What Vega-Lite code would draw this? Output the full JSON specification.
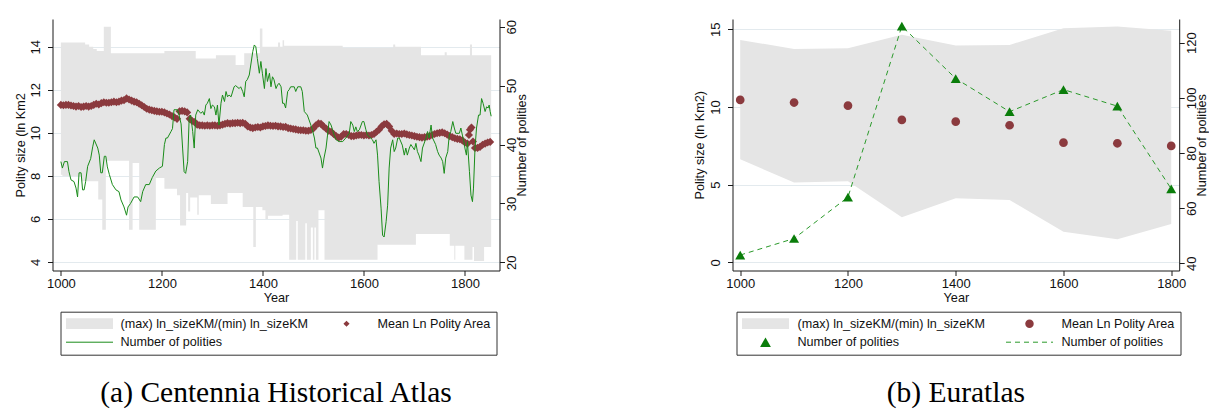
{
  "$schema": "https://vega.github.io/schema/vega-lite/v6.json",
  "background": "white",
  "padding": {"left": 14.5, "top": 19, "right": 0, "bottom": 0},
  "spacing": 233,
  "bounds": "flush",
  "resolve": {
    "scale": {"fill": "independent", "stroke": "independent", "shape": "independent", "strokeDash": "independent"},
    "legend": {"fill": "independent", "stroke": "independent", "shape": "independent", "strokeDash": "independent"}
  },
  "config": {
    "view": {"stroke": null},
    "font": "Liberation Sans",
    "axis": {
      "domainColor": "#1a1a1a", "tickColor": "#1a1a1a", "tickSize": 5,
      "labelColor": "#111", "titleColor": "#111",
      "labelFont": "Liberation Sans", "titleFont": "Liberation Sans",
      "labelFontSize": 13, "titleFontSize": 12.7, "titleFontWeight": "normal",
      "gridColor": "#e3eaee", "grid": false
    },
    "legend": {"labelFont": "Liberation Sans", "labelFontSize": 12.6, "labelColor": "#111", "labelLimit": 400}
  },
  "datasets": {
    "centRange": [
      {"year": 1000, "hi": 14.2, "lo": 8.05}, {"year": 1003, "hi": 14.2, "lo": 8.0},
      {"year": 1040, "hi": 14.2, "lo": 7.75}, {"year": 1048, "hi": 14.1, "lo": 7.75},
      {"year": 1056, "hi": 14.0, "lo": 7.75}, {"year": 1064, "hi": 13.9, "lo": 7.75},
      {"year": 1071, "hi": 13.8, "lo": 7.75}, {"year": 1074, "hi": 13.8, "lo": 6.9},
      {"year": 1082, "hi": 13.8, "lo": 5.5}, {"year": 1085, "hi": 14.93, "lo": 5.5},
      {"year": 1089, "hi": 14.93, "lo": 8.7}, {"year": 1099, "hi": 13.7, "lo": 8.7},
      {"year": 1135, "hi": 13.7, "lo": 5.5}, {"year": 1142, "hi": 13.7, "lo": 8.6},
      {"year": 1155, "hi": 13.7, "lo": 5.5}, {"year": 1188, "hi": 13.7, "lo": 7.9},
      {"year": 1205, "hi": 13.8, "lo": 7.4}, {"year": 1230, "hi": 13.8, "lo": 7.1},
      {"year": 1236, "hi": 13.8, "lo": 5.7}, {"year": 1248, "hi": 13.8, "lo": 7.2},
      {"year": 1252, "hi": 13.8, "lo": 6.35}, {"year": 1256, "hi": 13.8, "lo": 7.0},
      {"year": 1267, "hi": 13.46, "lo": 7.0}, {"year": 1270, "hi": 13.46, "lo": 6.2},
      {"year": 1273, "hi": 13.46, "lo": 7.1}, {"year": 1297, "hi": 13.46, "lo": 6.7},
      {"year": 1307, "hi": 13.6, "lo": 6.7}, {"year": 1330, "hi": 13.6, "lo": 7.2},
      {"year": 1346, "hi": 13.15, "lo": 7.2}, {"year": 1360, "hi": 13.15, "lo": 6.55},
      {"year": 1363, "hi": 13.7, "lo": 6.55}, {"year": 1381, "hi": 13.7, "lo": 4.7},
      {"year": 1386, "hi": 13.7, "lo": 6.55}, {"year": 1394, "hi": 14.85, "lo": 6.55},
      {"year": 1399, "hi": 14.0, "lo": 6.4}, {"year": 1405, "hi": 14.0, "lo": 6.0},
      {"year": 1410, "hi": 14.0, "lo": 6.15}, {"year": 1430, "hi": 14.2, "lo": 6.15},
      {"year": 1434, "hi": 14.0, "lo": 6.15}, {"year": 1439, "hi": 14.3, "lo": 6.2},
      {"year": 1442, "hi": 14.05, "lo": 6.2}, {"year": 1452, "hi": 14.05, "lo": 4.1},
      {"year": 1466, "hi": 14.05, "lo": 5.9}, {"year": 1469, "hi": 14.05, "lo": 4.1},
      {"year": 1484, "hi": 14.05, "lo": 5.8}, {"year": 1487, "hi": 14.05, "lo": 4.1},
      {"year": 1495, "hi": 14.05, "lo": 5.6}, {"year": 1499, "hi": 14.05, "lo": 4.1},
      {"year": 1502, "hi": 14.05, "lo": 5.6}, {"year": 1505, "hi": 14.05, "lo": 4.1},
      {"year": 1510, "hi": 14.05, "lo": 6.4}, {"year": 1522, "hi": 14.05, "lo": 4.1},
      {"year": 1558, "hi": 13.95, "lo": 4.1}, {"year": 1627, "hi": 13.95, "lo": 4.8},
      {"year": 1658, "hi": 14.1, "lo": 4.8}, {"year": 1662, "hi": 14.0, "lo": 4.8},
      {"year": 1703, "hi": 14.0, "lo": 5.3}, {"year": 1713, "hi": 13.6, "lo": 5.3},
      {"year": 1760, "hi": 13.75, "lo": 5.3}, {"year": 1764, "hi": 13.6, "lo": 5.3},
      {"year": 1770, "hi": 13.6, "lo": 4.75}, {"year": 1779, "hi": 13.6, "lo": 4.1},
      {"year": 1781, "hi": 13.6, "lo": 4.75}, {"year": 1799, "hi": 13.6, "lo": 4.1},
      {"year": 1810, "hi": 14.1, "lo": 4.1}, {"year": 1814, "hi": 13.6, "lo": 4.1},
      {"year": 1815, "hi": 13.6, "lo": 4.7}, {"year": 1818, "hi": 13.6, "lo": 4.05},
      {"year": 1838, "hi": 13.6, "lo": 4.7}, {"year": 1852, "hi": 13.6, "lo": 4.7}
    ],
    "centMean": [
      {"year": 1000, "m": 11.3}, {"year": 1005, "m": 11.28}, {"year": 1010, "m": 11.3}, {"year": 1015, "m": 11.3},
      {"year": 1020, "m": 11.27}, {"year": 1025, "m": 11.25}, {"year": 1030, "m": 11.22}, {"year": 1035, "m": 11.25},
      {"year": 1040, "m": 11.2}, {"year": 1045, "m": 11.22}, {"year": 1050, "m": 11.25}, {"year": 1055, "m": 11.22},
      {"year": 1060, "m": 11.25}, {"year": 1065, "m": 11.3}, {"year": 1070, "m": 11.35}, {"year": 1075, "m": 11.32},
      {"year": 1080, "m": 11.38}, {"year": 1085, "m": 11.42}, {"year": 1090, "m": 11.4}, {"year": 1095, "m": 11.4},
      {"year": 1100, "m": 11.42}, {"year": 1105, "m": 11.45}, {"year": 1110, "m": 11.42}, {"year": 1115, "m": 11.45},
      {"year": 1120, "m": 11.5}, {"year": 1125, "m": 11.52}, {"year": 1130, "m": 11.6}, {"year": 1135, "m": 11.55},
      {"year": 1140, "m": 11.5}, {"year": 1145, "m": 11.45}, {"year": 1150, "m": 11.42}, {"year": 1155, "m": 11.35},
      {"year": 1160, "m": 11.28}, {"year": 1165, "m": 11.2}, {"year": 1170, "m": 11.12}, {"year": 1175, "m": 11.08},
      {"year": 1180, "m": 11.05}, {"year": 1185, "m": 11.02}, {"year": 1190, "m": 11.0}, {"year": 1195, "m": 10.98},
      {"year": 1200, "m": 10.98}, {"year": 1205, "m": 10.95}, {"year": 1210, "m": 10.9}, {"year": 1215, "m": 10.85},
      {"year": 1220, "m": 10.78}, {"year": 1225, "m": 10.72}, {"year": 1230, "m": 10.65}, {"year": 1235, "m": 11.0},
      {"year": 1240, "m": 11.02}, {"year": 1245, "m": 11.0}, {"year": 1250, "m": 10.95}, {"year": 1255, "m": 10.65},
      {"year": 1260, "m": 10.55}, {"year": 1265, "m": 10.5}, {"year": 1270, "m": 10.38}, {"year": 1275, "m": 10.35},
      {"year": 1280, "m": 10.35}, {"year": 1285, "m": 10.33}, {"year": 1290, "m": 10.35}, {"year": 1295, "m": 10.33},
      {"year": 1300, "m": 10.35}, {"year": 1305, "m": 10.35}, {"year": 1310, "m": 10.33}, {"year": 1315, "m": 10.35},
      {"year": 1320, "m": 10.38}, {"year": 1325, "m": 10.42}, {"year": 1330, "m": 10.45}, {"year": 1335, "m": 10.43},
      {"year": 1340, "m": 10.45}, {"year": 1345, "m": 10.45}, {"year": 1350, "m": 10.47}, {"year": 1355, "m": 10.45},
      {"year": 1360, "m": 10.47}, {"year": 1365, "m": 10.42}, {"year": 1370, "m": 10.3}, {"year": 1375, "m": 10.25},
      {"year": 1380, "m": 10.22}, {"year": 1385, "m": 10.25}, {"year": 1390, "m": 10.27}, {"year": 1395, "m": 10.25},
      {"year": 1400, "m": 10.3}, {"year": 1405, "m": 10.32}, {"year": 1410, "m": 10.35}, {"year": 1415, "m": 10.33},
      {"year": 1420, "m": 10.32}, {"year": 1425, "m": 10.33}, {"year": 1430, "m": 10.3}, {"year": 1435, "m": 10.3},
      {"year": 1440, "m": 10.27}, {"year": 1445, "m": 10.28}, {"year": 1450, "m": 10.22}, {"year": 1455, "m": 10.2},
      {"year": 1460, "m": 10.18}, {"year": 1465, "m": 10.16}, {"year": 1470, "m": 10.13}, {"year": 1475, "m": 10.12},
      {"year": 1480, "m": 10.12}, {"year": 1485, "m": 10.1}, {"year": 1490, "m": 10.1}, {"year": 1495, "m": 10.13},
      {"year": 1500, "m": 10.2}, {"year": 1505, "m": 10.35}, {"year": 1510, "m": 10.44}, {"year": 1515, "m": 10.42},
      {"year": 1520, "m": 10.3}, {"year": 1525, "m": 10.2}, {"year": 1530, "m": 10.1}, {"year": 1535, "m": 10.05},
      {"year": 1540, "m": 9.95}, {"year": 1545, "m": 9.85}, {"year": 1550, "m": 9.78}, {"year": 1555, "m": 9.82},
      {"year": 1560, "m": 9.95}, {"year": 1565, "m": 9.95}, {"year": 1570, "m": 9.9}, {"year": 1575, "m": 9.85},
      {"year": 1580, "m": 9.85}, {"year": 1585, "m": 9.88}, {"year": 1590, "m": 9.9}, {"year": 1595, "m": 9.9},
      {"year": 1600, "m": 9.88}, {"year": 1605, "m": 9.9}, {"year": 1610, "m": 9.88}, {"year": 1615, "m": 9.9},
      {"year": 1620, "m": 9.95}, {"year": 1625, "m": 10.05}, {"year": 1630, "m": 10.15}, {"year": 1635, "m": 10.3},
      {"year": 1640, "m": 10.4}, {"year": 1645, "m": 10.42}, {"year": 1650, "m": 10.3}, {"year": 1655, "m": 10.1},
      {"year": 1660, "m": 9.95}, {"year": 1665, "m": 9.97}, {"year": 1670, "m": 9.95}, {"year": 1675, "m": 9.95},
      {"year": 1680, "m": 9.97}, {"year": 1685, "m": 9.93}, {"year": 1690, "m": 9.9}, {"year": 1695, "m": 9.88},
      {"year": 1700, "m": 9.85}, {"year": 1705, "m": 9.82}, {"year": 1710, "m": 9.8}, {"year": 1715, "m": 9.78},
      {"year": 1720, "m": 9.8}, {"year": 1725, "m": 9.82}, {"year": 1730, "m": 9.85}, {"year": 1735, "m": 9.9},
      {"year": 1740, "m": 9.95}, {"year": 1745, "m": 9.98}, {"year": 1750, "m": 10.0}, {"year": 1755, "m": 10.02},
      {"year": 1760, "m": 9.98}, {"year": 1765, "m": 9.92}, {"year": 1770, "m": 9.85}, {"year": 1775, "m": 9.8},
      {"year": 1780, "m": 9.75}, {"year": 1785, "m": 9.72}, {"year": 1790, "m": 9.7}, {"year": 1795, "m": 9.65},
      {"year": 1800, "m": 9.55}, {"year": 1805, "m": 9.5}, {"year": 1808, "m": 9.9}, {"year": 1810, "m": 10.15},
      {"year": 1813, "m": 10.25}, {"year": 1816, "m": 9.6}, {"year": 1820, "m": 9.3}, {"year": 1825, "m": 9.3},
      {"year": 1830, "m": 9.35}, {"year": 1835, "m": 9.45}, {"year": 1840, "m": 9.5}, {"year": 1845, "m": 9.55},
      {"year": 1850, "m": 9.58}
    ],
    "centCount": [
      {"year": 1000, "n": 37.1}, {"year": 1003, "n": 36.0}, {"year": 1007, "n": 37.1}, {"year": 1013, "n": 37.1},
      {"year": 1016, "n": 35.4}, {"year": 1020, "n": 34.0}, {"year": 1026, "n": 33.7}, {"year": 1030, "n": 32.6},
      {"year": 1033, "n": 31.1}, {"year": 1036, "n": 35.2}, {"year": 1040, "n": 35.2}, {"year": 1043, "n": 32.3},
      {"year": 1046, "n": 32.3}, {"year": 1049, "n": 33.7}, {"year": 1053, "n": 36.3}, {"year": 1059, "n": 37.6},
      {"year": 1063, "n": 39.6}, {"year": 1066, "n": 40.8}, {"year": 1073, "n": 39.4}, {"year": 1076, "n": 38.2},
      {"year": 1079, "n": 35.2}, {"year": 1082, "n": 35.2}, {"year": 1086, "n": 38.0}, {"year": 1089, "n": 38.0},
      {"year": 1092, "n": 36.2}, {"year": 1096, "n": 34.9}, {"year": 1102, "n": 33.2}, {"year": 1109, "n": 32.3},
      {"year": 1115, "n": 32.0}, {"year": 1119, "n": 30.6}, {"year": 1125, "n": 29.4}, {"year": 1130, "n": 28.0},
      {"year": 1133, "n": 29.4}, {"year": 1138, "n": 30.0}, {"year": 1145, "n": 31.1}, {"year": 1152, "n": 31.1},
      {"year": 1158, "n": 30.3}, {"year": 1162, "n": 32.0}, {"year": 1168, "n": 33.2}, {"year": 1175, "n": 33.2},
      {"year": 1181, "n": 34.4}, {"year": 1188, "n": 35.5}, {"year": 1195, "n": 36.0}, {"year": 1201, "n": 36.3},
      {"year": 1205, "n": 40.0}, {"year": 1208, "n": 41.1}, {"year": 1211, "n": 41.1}, {"year": 1218, "n": 42.2},
      {"year": 1221, "n": 42.7}, {"year": 1224, "n": 45.9}, {"year": 1231, "n": 45.9}, {"year": 1234, "n": 45.0},
      {"year": 1238, "n": 43.5}, {"year": 1241, "n": 39.4}, {"year": 1244, "n": 35.4}, {"year": 1247, "n": 35.1},
      {"year": 1251, "n": 37.1}, {"year": 1254, "n": 44.4}, {"year": 1257, "n": 45.0}, {"year": 1261, "n": 42.2},
      {"year": 1264, "n": 39.4}, {"year": 1267, "n": 45.0}, {"year": 1271, "n": 45.9}, {"year": 1277, "n": 45.3},
      {"year": 1281, "n": 45.6}, {"year": 1284, "n": 45.0}, {"year": 1287, "n": 46.7}, {"year": 1290, "n": 47.0},
      {"year": 1294, "n": 47.8}, {"year": 1297, "n": 46.1}, {"year": 1300, "n": 46.7}, {"year": 1304, "n": 46.4},
      {"year": 1307, "n": 45.0}, {"year": 1310, "n": 46.7}, {"year": 1313, "n": 43.3}, {"year": 1317, "n": 47.0},
      {"year": 1320, "n": 48.4}, {"year": 1324, "n": 47.3}, {"year": 1327, "n": 49.0}, {"year": 1330, "n": 48.1},
      {"year": 1333, "n": 48.4}, {"year": 1337, "n": 48.1}, {"year": 1343, "n": 49.8}, {"year": 1346, "n": 50.0},
      {"year": 1353, "n": 49.5}, {"year": 1356, "n": 49.8}, {"year": 1360, "n": 49.0}, {"year": 1363, "n": 48.1},
      {"year": 1366, "n": 50.7}, {"year": 1369, "n": 51.0}, {"year": 1373, "n": 51.8}, {"year": 1376, "n": 53.5},
      {"year": 1380, "n": 55.8}, {"year": 1383, "n": 56.9}, {"year": 1386, "n": 56.6}, {"year": 1389, "n": 54.6},
      {"year": 1393, "n": 52.1}, {"year": 1396, "n": 54.1}, {"year": 1399, "n": 52.1}, {"year": 1403, "n": 49.5},
      {"year": 1406, "n": 52.9}, {"year": 1409, "n": 50.7}, {"year": 1413, "n": 52.1}, {"year": 1416, "n": 49.8},
      {"year": 1419, "n": 51.5}, {"year": 1422, "n": 51.0}, {"year": 1426, "n": 49.5}, {"year": 1429, "n": 50.1},
      {"year": 1432, "n": 50.4}, {"year": 1436, "n": 49.8}, {"year": 1439, "n": 47.0}, {"year": 1442, "n": 47.0},
      {"year": 1445, "n": 46.2}, {"year": 1449, "n": 49.0}, {"year": 1452, "n": 49.3}, {"year": 1455, "n": 49.8},
      {"year": 1462, "n": 49.8}, {"year": 1465, "n": 49.0}, {"year": 1469, "n": 49.8}, {"year": 1475, "n": 49.8},
      {"year": 1478, "n": 49.0}, {"year": 1482, "n": 45.6}, {"year": 1488, "n": 45.0}, {"year": 1495, "n": 43.3},
      {"year": 1498, "n": 42.5}, {"year": 1502, "n": 41.1}, {"year": 1505, "n": 39.4}, {"year": 1508, "n": 39.4},
      {"year": 1515, "n": 37.7}, {"year": 1518, "n": 36.0}, {"year": 1521, "n": 37.7}, {"year": 1525, "n": 39.4},
      {"year": 1528, "n": 41.6}, {"year": 1531, "n": 43.9}, {"year": 1535, "n": 43.3}, {"year": 1538, "n": 42.5},
      {"year": 1541, "n": 41.6}, {"year": 1545, "n": 40.8}, {"year": 1551, "n": 40.5}, {"year": 1558, "n": 40.5},
      {"year": 1564, "n": 41.1}, {"year": 1571, "n": 41.9}, {"year": 1574, "n": 43.9}, {"year": 1578, "n": 43.3},
      {"year": 1581, "n": 42.2}, {"year": 1584, "n": 43.0}, {"year": 1587, "n": 42.2}, {"year": 1591, "n": 42.5},
      {"year": 1597, "n": 43.9}, {"year": 1600, "n": 43.9}, {"year": 1604, "n": 42.5}, {"year": 1607, "n": 41.6},
      {"year": 1611, "n": 41.3}, {"year": 1617, "n": 40.8}, {"year": 1620, "n": 40.2}, {"year": 1624, "n": 40.8},
      {"year": 1627, "n": 38.2}, {"year": 1630, "n": 33.7}, {"year": 1634, "n": 29.2}, {"year": 1637, "n": 24.6},
      {"year": 1640, "n": 24.3}, {"year": 1644, "n": 26.9}, {"year": 1647, "n": 29.7}, {"year": 1650, "n": 36.0},
      {"year": 1653, "n": 39.4}, {"year": 1657, "n": 40.8}, {"year": 1660, "n": 38.8}, {"year": 1663, "n": 39.4},
      {"year": 1667, "n": 41.1}, {"year": 1670, "n": 41.1}, {"year": 1676, "n": 39.9}, {"year": 1680, "n": 38.2},
      {"year": 1683, "n": 39.4}, {"year": 1686, "n": 38.2}, {"year": 1690, "n": 39.4}, {"year": 1693, "n": 40.0},
      {"year": 1700, "n": 39.1}, {"year": 1703, "n": 40.2}, {"year": 1706, "n": 38.8}, {"year": 1709, "n": 38.2},
      {"year": 1713, "n": 37.1}, {"year": 1716, "n": 39.4}, {"year": 1723, "n": 41.1}, {"year": 1726, "n": 42.2},
      {"year": 1729, "n": 41.1}, {"year": 1733, "n": 43.3}, {"year": 1736, "n": 41.1}, {"year": 1742, "n": 40.0},
      {"year": 1746, "n": 38.8}, {"year": 1749, "n": 38.2}, {"year": 1753, "n": 37.7}, {"year": 1756, "n": 37.1},
      {"year": 1759, "n": 35.1}, {"year": 1762, "n": 37.7}, {"year": 1766, "n": 38.8}, {"year": 1769, "n": 41.6},
      {"year": 1772, "n": 42.2}, {"year": 1776, "n": 43.9}, {"year": 1779, "n": 42.8}, {"year": 1782, "n": 41.9},
      {"year": 1789, "n": 41.9}, {"year": 1792, "n": 42.8}, {"year": 1795, "n": 41.6}, {"year": 1798, "n": 40.5},
      {"year": 1800, "n": 39.4}, {"year": 1803, "n": 38.2}, {"year": 1805, "n": 40.5}, {"year": 1809, "n": 35.4},
      {"year": 1812, "n": 31.4}, {"year": 1815, "n": 30.3}, {"year": 1817, "n": 32.6}, {"year": 1820, "n": 39.4},
      {"year": 1823, "n": 42.8}, {"year": 1827, "n": 45.0}, {"year": 1830, "n": 45.0}, {"year": 1833, "n": 47.8},
      {"year": 1836, "n": 47.0}, {"year": 1840, "n": 45.6}, {"year": 1843, "n": 46.4}, {"year": 1846, "n": 46.2},
      {"year": 1848, "n": 46.7}, {"year": 1850, "n": 45.6}, {"year": 1852, "n": 44.8}
    ],
    "eur": [
      {"year": 1000, "hi": 14.31, "lo": 6.63, "m": 10.45, "n": 43},
      {"year": 1100, "hi": 13.73, "lo": 5.13, "m": 10.28, "n": 49},
      {"year": 1200, "hi": 13.78, "lo": 5.22, "m": 10.08, "n": 64},
      {"year": 1300, "hi": 14.64, "lo": 2.9, "m": 9.16, "n": 126},
      {"year": 1400, "hi": 13.95, "lo": 4.12, "m": 9.05, "n": 107},
      {"year": 1500, "hi": 13.99, "lo": 4.01, "m": 8.82, "n": 95},
      {"year": 1600, "hi": 15.07, "lo": 1.97, "m": 7.7, "n": 103},
      {"year": 1700, "hi": 15.17, "lo": 1.48, "m": 7.66, "n": 97},
      {"year": 1800, "hi": 14.91, "lo": 2.47, "m": 7.49, "n": 67}
    ]
  },
  "hconcat": [
    {
      "width": 447,
      "height": 251.5,
      "title": {"text": "(a) Centennia Historical Atlas", "orient": "bottom", "anchor": "middle", "font": "Liberation Serif", "fontSize": 29.5, "fontWeight": "normal", "color": "#000", "offset": 24},
      "resolve": {"scale": {"y": "independent"}},
      "layer": [
        {
          "data": {"name": "centRange"},
          "mark": {"type": "area", "interpolate": "step-after", "opacity": 1},
          "encoding": {
            "x": {"field": "year", "type": "quantitative", "scale": {"domain": [983.4, 1868.5], "nice": false, "zero": false},
                  "axis": {"values": [1000, 1200, 1400, 1600, 1800], "format": "d", "title": "Year", "labelPadding": 2, "titlePadding": 1, "labelFlush": false}},
            "y": {"field": "hi", "type": "quantitative", "scale": {"domain": [3.605, 15.29], "nice": false, "zero": false},
                  "axis": {"orient": "left", "values": [4, 6, 8, 10, 12, 14], "grid": true, "title": "Polity size (ln Km2", "labelAngle": 270, "labelPadding": 5, "titlePadding": 2}},
            "y2": {"field": "lo"},
            "fill": {"datum": "range", "type": "nominal",
                     "scale": {"domain": ["range", "mean", "count"], "range": ["#e5e5e5", "#8b3a3e", "transparent"]},
                     "legend": {
                       "title": null, "orient": "none", "legendX": 8, "legendY": 292.7, "columns": 2, "direction": "horizontal",
                       "symbolSize": 2209, "clipHeight": 14, "labelOffset": 7, "columnPadding": 14, "rowPadding": 4.5, "padding": 5,
                       "strokeColor": "#333", "fillColor": "white", "symbolStrokeWidth": 1, "symbolOpacity": 1,
                       "labelExpr": "datum.value === 'range' ? '(max) ln_sizeKM/(min) ln_sizeKM' : datum.value === 'mean' ? 'Mean Ln Polity Area' : 'Number of polities'"
                     }}
          }
        },
        {
          "data": {"name": "centMean"},
          "mark": {"type": "point", "filled": true, "size": 3900, "opacity": 1},
          "encoding": {
            "x": {"field": "year", "type": "quantitative", "scale": {"domain": [983.4, 1868.5], "nice": false, "zero": false},
                  "axis": {"values": [1000, 1200, 1400, 1600, 1800], "format": "d", "title": "Year", "labelPadding": 2, "titlePadding": 1, "labelFlush": false}},
            "y": {"field": "m", "type": "quantitative", "scale": {"domain": [3.605, 15.29], "nice": false, "zero": false}, "axis": null},
            "fill": {"datum": "mean", "type": "nominal"},
            "shape": {"datum": "mean", "type": "nominal",
                      "scale": {"domain": ["range", "mean", "count"], "range": ["M-1,-0.23H1V0.23H-1Z", "M0,-0.13L0.13,0L0,0.13L-0.13,0Z", "M-1,0H1"]}}
          }
        },
        {
          "data": {"name": "centCount"},
          "mark": {"type": "line", "strokeWidth": 1, "opacity": 1},
          "encoding": {
            "x": {"field": "year", "type": "quantitative", "scale": {"domain": [983.4, 1868.5], "nice": false, "zero": false},
                  "axis": {"values": [1000, 1200, 1400, 1600, 1800], "format": "d", "title": "Year", "labelPadding": 2, "titlePadding": 1, "labelFlush": false}},
            "y": {"field": "n", "type": "quantitative", "scale": {"domain": [18.61, 61.31], "nice": false, "zero": false},
                  "axis": {"orient": "right", "values": [20, 30, 40, 50, 60], "title": "Number of polities", "labelAngle": 270, "titleAngle": 270, "labelPadding": 1, "titlePadding": 10}},
            "stroke": {"datum": "count", "type": "nominal",
                       "scale": {"domain": ["range", "mean", "count"], "range": ["transparent", "transparent", "#1a8c1a"]}}
          }
        }
      ]
    },
    {
      "width": 446.7,
      "height": 251.5,
      "data": {"name": "eur"},
      "title": {"text": "(b) Euratlas", "orient": "bottom", "anchor": "middle", "font": "Liberation Serif", "fontSize": 29.5, "fontWeight": "normal", "color": "#000", "offset": 24},
      "resolve": {"scale": {"y": "independent"}},
      "layer": [
        {
          "mark": {"type": "area", "opacity": 1},
          "encoding": {
            "x": {"field": "year", "type": "quantitative", "scale": {"domain": [985.7, 1814.8], "nice": false, "zero": false},
                  "axis": {"values": [1000, 1200, 1400, 1600, 1800], "format": "d", "title": "Year", "labelPadding": 2, "titlePadding": 1, "labelFlush": false}},
            "y": {"field": "hi", "type": "quantitative", "scale": {"domain": [-0.53, 15.66], "nice": false, "zero": false},
                  "axis": {"orient": "left", "values": [0, 5, 10, 15], "grid": true, "title": "Polity size (ln Km2)", "labelAngle": 270, "labelPadding": 5, "titlePadding": 3}},
            "y2": {"field": "lo"},
            "fill": {"datum": "range", "type": "nominal",
                     "scale": {"domain": ["range", "mean", "countpts", "countline"], "range": ["#e5e5e5", "#8b3a3e", "#0a7d0a", "transparent"]},
                     "legend": {
                       "title": null, "orient": "none", "legendX": 4, "legendY": 292.7, "columns": 2, "direction": "horizontal",
                       "symbolSize": 2209, "clipHeight": 14, "labelOffset": 8, "columnPadding": 20, "rowPadding": 4.5, "padding": 5,
                       "strokeColor": "#333", "fillColor": "white", "symbolStrokeWidth": 1, "symbolOpacity": 1,
                       "labelExpr": "datum.value === 'range' ? '(max) ln_sizeKM/(min) ln_sizeKM' : datum.value === 'mean' ? 'Mean Ln Polity Area' : 'Number of polities'"
                     }}
          }
        },
        {
          "mark": {"type": "point", "filled": true, "size": 2340, "opacity": 1},
          "encoding": {
            "x": {"field": "year", "type": "quantitative", "scale": {"domain": [985.7, 1814.8], "nice": false, "zero": false},
                  "axis": {"values": [1000, 1200, 1400, 1600, 1800], "format": "d", "title": "Year", "labelPadding": 2, "titlePadding": 1, "labelFlush": false}},
            "y": {"field": "m", "type": "quantitative", "scale": {"domain": [-0.53, 15.66], "nice": false, "zero": false}, "axis": null},
            "fill": {"datum": "mean", "type": "nominal"},
            "shape": {"datum": "mean", "type": "nominal",
                      "scale": {"domain": ["range", "mean", "countpts", "countline"],
                                "range": ["M-1,-0.23H1V0.23H-1Z", "M0.18,0A0.18,0.18,0,1,1,-0.18,0A0.18,0.18,0,1,1,0.18,0Z", "M0,-0.2L0.23,0.2L-0.23,0.2Z", "M-1,0H1"]}}
          }
        },
        {
          "mark": {"type": "line", "strokeWidth": 1, "opacity": 1},
          "encoding": {
            "x": {"field": "year", "type": "quantitative", "scale": {"domain": [985.7, 1814.8], "nice": false, "zero": false},
                  "axis": {"values": [1000, 1200, 1400, 1600, 1800], "format": "d", "title": "Year", "labelPadding": 2, "titlePadding": 1, "labelFlush": false}},
            "y": {"field": "n", "type": "quantitative", "scale": {"domain": [37.4, 128.6], "nice": false, "zero": false},
                  "axis": {"orient": "right", "values": [40, 60, 80, 100, 120], "title": "Number of polities", "labelAngle": 270, "titleAngle": 270, "labelPadding": 1, "titlePadding": 10}},
            "stroke": {"datum": "countline", "type": "nominal",
                       "scale": {"domain": ["range", "mean", "countpts", "countline"], "range": ["transparent", "transparent", "transparent", "#2b9a2b"]}},
            "strokeDash": {"datum": "countline", "type": "nominal",
                           "scale": {"domain": ["range", "mean", "countpts", "countline"], "range": [[1, 0], [1, 0], [1, 0], [5, 4]]}}
          }
        },
        {
          "mark": {"type": "point", "filled": true, "size": 1890, "opacity": 1},
          "encoding": {
            "x": {"field": "year", "type": "quantitative", "scale": {"domain": [985.7, 1814.8], "nice": false, "zero": false},
                  "axis": {"values": [1000, 1200, 1400, 1600, 1800], "format": "d", "title": "Year", "labelPadding": 2, "titlePadding": 1, "labelFlush": false}},
            "y": {"field": "n", "type": "quantitative", "scale": {"domain": [37.4, 128.6], "nice": false, "zero": false}, "axis": null},
            "fill": {"datum": "countpts", "type": "nominal"},
            "shape": {"datum": "countpts", "type": "nominal"}
          }
        }
      ]
    }
  ]
}
